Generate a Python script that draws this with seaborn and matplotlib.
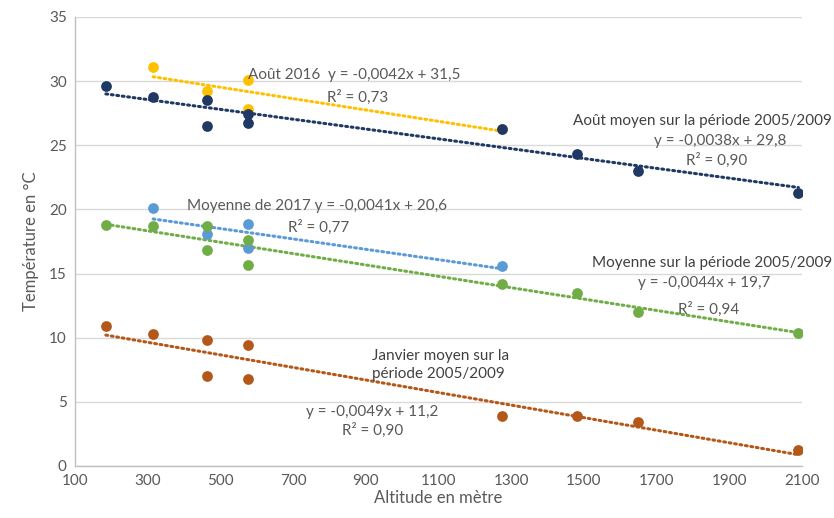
import numpy as np
import pandas as pd
import matplotlib
matplotlib.use("Agg")
import matplotlib.pyplot as plt
import seaborn as sns

# altitudes (m) and temperatures (°C)
alt_stations = [185, 315, 463, 463, 575, 575, 1275, 1480, 1650, 2090]
t_aout_moy = [29.6, 28.8, 28.5, 26.5, 27.4, 26.7, 26.3, 24.3, 23.0, 21.3]
t_janv_moy = [10.9, 10.3, 9.8, 7.0, 9.4, 6.8, 3.9, 3.9, 3.45, 1.25]
t_moy_0509 = [18.8, 18.7, 18.7, 16.8, 17.6, 15.7, 14.2, 13.5, 12.0, 10.4]

alt_recent = [315, 463, 575, 575, 1275]
t_aout_2016 = [31.1, 29.2, 30.1, 27.8, 26.3]
t_moy_2017 = [20.1, 18.1, 18.9, 17.0, 15.6]

x_ticks = [100, 300, 500, 700, 900, 1100, 1300, 1500, 1700, 1900, 2100]
y_ticks = [0, 5, 10, 15, 20, 25, 30, 35]

sns.set_theme(style="white")
plt.rcParams['font.family'] = ['Lato', 'DejaVu Sans']

fig = plt.figure(figsize=(8.34, 5.18), dpi=100)
ax = fig.add_axes([0.0899, 0.1004, 0.8717, 0.8668])

series = [
    (alt_recent, t_aout_2016, "#FFC000"),
    (alt_stations, t_aout_moy, "#203864"),
    (alt_recent, t_moy_2017, "#5B9BD5"),
    (alt_stations, t_moy_0509, "#70AD47"),
    (alt_stations, t_janv_moy, "#B4581A"),
]
for i, (x, y, c) in enumerate(series):
    df = pd.DataFrame({"alt": x, "t": y})
    sns.regplot(data=df, x="alt", y="t", ax=ax, ci=None, color=c,
                scatter_kws={"s": 60, "alpha": 1, "linewidths": 0, "zorder": 3 + i},
                line_kws={"ls": (0, (0.6, 1.2)), "lw": 2.2, "zorder": 2, "dash_capstyle": "round"})

ax.set_xlim(100, 2100)
ax.set_ylim(0, 35)
ax.set_xticks(x_ticks)
ax.set_yticks(y_ticks)
ax.grid(axis="y", color="#D9D9D9", lw=1)
ax.set_axisbelow(True)
for s in ["top", "right"]:
    ax.spines[s].set_visible(False)
for s in ["left", "bottom"]:
    ax.spines[s].set_color("#BFBFBF")
    ax.spines[s].set_linewidth(1)
ax.tick_params(axis="both", length=0, labelsize=11, labelcolor="#595959", pad=6)
ax.set_xlabel("Altitude en mètre", fontsize=12, color="#595959", labelpad=1)
ax.set_ylabel("Température en °C", fontsize=12, color="#595959", labelpad=7)

lab = "#404040"
eq = "#595959"
fs = 11
ax.text(577, 30.5, "Août 2016  y = -0,0042x + 31,5", color=eq, fontsize=fs, ha="left", va="center")
ax.text(878, 28.75, "R² = 0,73", color=eq, fontsize=fs, ha="center", va="center")
ax.text(2183, 26.9, "Août moyen sur la période 2005/2009", color=lab, fontsize=fs, ha="right", va="center")
ax.text(1874, 25.33, "y = -0,0038x + 29,8", color=eq, fontsize=fs, ha="center", va="center")
ax.text(1866, 23.85, "R² = 0,90", color=eq, fontsize=fs, ha="center", va="center")
ax.text(409, 20.26, "Moyenne de 2017 y = -0,0041x + 20,6", color=eq, fontsize=fs, ha="left", va="center")
ax.text(770, 18.63, "R² = 0,77", color=eq, fontsize=fs, ha="center", va="center")
ax.text(2183, 15.82, "Moyenne sur la période 2005/2009", color=lab, fontsize=fs, ha="right", va="center")
ax.text(1832, 14.26, "y = -0,0044x + 19,7", color=eq, fontsize=fs, ha="center", va="center")
ax.text(1843, 12.24, "R² = 0,94", color=eq, fontsize=fs, ha="center", va="center")
ax.text(917, 7.87, "Janvier moyen sur la\npériode 2005/2009", color=lab, fontsize=fs, ha="left", va="center", linespacing=1.4)
ax.text(919, 4.21, "y = -0,0049x + 11,2", color=eq, fontsize=fs, ha="center", va="center")
ax.text(919, 2.81, "R² = 0,90", color=eq, fontsize=fs, ha="center", va="center")

fig.savefig("out.png", dpi=100)
